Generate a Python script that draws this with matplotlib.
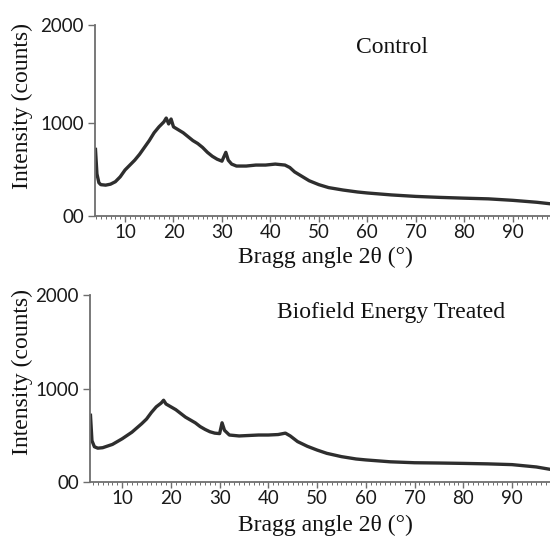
import matplotlib
matplotlib.use("Agg")
import matplotlib.pyplot as plt
from matplotlib.ticker import MultipleLocator, FixedLocator

# ---- data ----
ctrl_2theta = [3.9, 4.2, 4.6, 5, 6, 7, 8, 9, 10, 11, 12, 13, 14, 15, 16, 17, 18, 18.5, 19, 19.5,
               20, 21, 22, 23, 24, 25, 26, 27, 28, 29, 30, 30.8, 31.3, 32, 33, 35, 37, 39, 41,
               43, 44, 45, 46, 47, 48, 50, 52, 55, 58, 60, 65, 70, 75, 80, 85, 90, 95, 97.7]
ctrl_counts = [730, 480, 390, 370, 365, 375, 400, 450, 520, 570, 620, 680, 750, 820, 900, 960, 1010, 1050, 990, 1040,
               960, 930, 900, 860, 820, 790, 750, 700, 660, 630, 610, 700, 620, 580, 560, 560, 570, 570, 580,
               570, 545, 500, 470, 440, 410, 370, 340, 315, 295, 285, 265, 250, 240, 232, 225, 210, 190, 175]

trt_2theta = [3.5, 3.8, 4.3, 5, 6, 8, 10, 12, 14, 15, 16, 17, 18, 18.5, 19, 20, 21, 22, 23, 24, 25,
              26, 27, 28, 29, 30, 30.5, 31, 32, 34, 36, 38, 40, 42, 43.5, 44.5, 46, 48, 50, 52, 55,
              58, 60, 65, 70, 75, 80, 85, 90, 95, 97.8]
trt_counts = [720, 450, 385, 370, 375, 410, 470, 540, 630, 680, 750, 810, 850, 880, 840, 810, 780, 740, 700, 670, 640,
              600, 570, 545, 530, 525, 640, 560, 510, 500, 505, 510, 510, 515, 530, 500, 440, 390, 350, 315, 280,
              255, 245, 225, 215, 212, 208, 203, 195, 170, 145]

titles = ["Control", "Biofield Energy Treated"]
y_tick_labels = ["00", "1000", "2000"]
x_major = [10, 20, 30, 40, 50, 60, 70, 80, 90]

W, H = 550, 536
fig = plt.figure(figsize=(W / 100, H / 100), dpi=100)

def px_rect(left, top, right, bottom):
    return [left / W, 1 - bottom / H, (right - left) / W, (bottom - top) / H]

panels = [
    dict(rect=px_rect(95, 25, 550, 216), x=ctrl_2theta, y=ctrl_counts, xlim=(3.8, 97.7), ymin=50,
         title=titles[0], tpos=(0.653, 0.88), xlab_y=257, ylab_y=106),
    dict(rect=px_rect(90, 295, 550, 482), x=trt_2theta, y=trt_counts, xlim=(3.4, 97.8), ymin=10,
         title=titles[1], tpos=(0.654, 0.904), xlab_y=525, ylab_y=372),
]

serif = ["Liberation Serif", "DejaVu Serif"]
sans = ["Lato", "DejaVu Sans"]
axcol = "#6e6e6e"

for p in panels:
    ax = fig.add_axes(p["rect"])
    ax.plot(p["x"], p["y"], color="#2e2e2e", lw=2.4, solid_joinstyle="round")
    ax.set_xlim(*p["xlim"])
    ax.set_ylim(p["ymin"], 2000)
    for s in ("top", "right"):
        ax.spines[s].set_visible(False)
    for s in ("left", "bottom"):
        ax.spines[s].set_color(axcol)
        ax.spines[s].set_linewidth(1.3)
    ax.xaxis.set_major_locator(FixedLocator(x_major))
    ax.xaxis.set_minor_locator(MultipleLocator(1))
    ax.yaxis.set_major_locator(FixedLocator([p["ymin"], 1000, 2000]))
    ax.set_yticklabels(y_tick_labels)
    ax.tick_params(axis="x", which="major", direction="out", length=4, width=1, color=axcol, pad=1.5,
                   labelsize=13.5)
    ax.tick_params(axis="x", which="minor", direction="out", length=2.2, width=0.7, color=axcol)
    ax.tick_params(axis="y", which="major", direction="out", length=5, width=1, color=axcol, pad=3,
                   labelsize=13.5)
    for lab in ax.get_xticklabels() + ax.get_yticklabels():
        lab.set_family(sans)
        lab.set_color("#1a1a1a")
    ax.text(p["tpos"][0], p["tpos"][1], p["title"], transform=ax.transAxes, ha="center", va="center",
            family=serif, fontsize=17, color="#111111")
    fig.text(325 / W, 1 - p["xlab_y"] / H, "Bragg angle 2θ (°)", ha="center", va="center",
             family=serif, fontsize=17, color="#111111")
    fig.text(22 / W, 1 - p["ylab_y"] / H, "Intensity (counts)", ha="center", va="center",
             rotation=90, family=serif, fontsize=17, color="#111111")

fig.savefig("out.png", dpi=100)
